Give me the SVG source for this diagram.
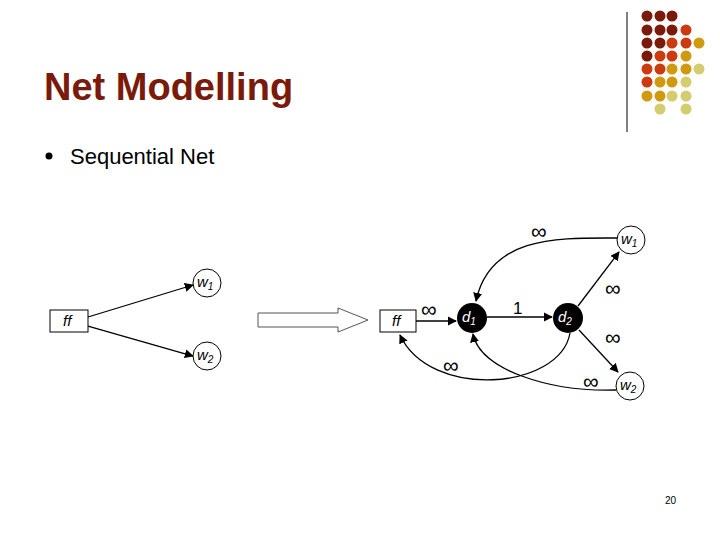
<svg xmlns="http://www.w3.org/2000/svg" width="720" height="540" viewBox="0 0 720 540">
<style>
.d{fill:#7a1a0a}.o{fill:#cc3a10}.g{fill:#d09a10}.p{fill:#d4cc70}
.t{font-family:"Liberation Sans",Arial,sans-serif}
.n{fill:#fff;stroke:#000;stroke-width:1}
.e{fill:none;stroke:#000;stroke-width:1.3;marker-end:url(#a)}
.lb{font-family:"Liberation Sans",Arial,sans-serif;font-size:22px}
.it{font-family:"Liberation Sans",Arial,sans-serif;font-style:italic;font-size:15px}
</style>
<defs><marker id="a" viewBox="0 0 10 10" refX="9" refY="5" markerWidth="7" markerHeight="7" orient="auto"><path d="M0,0L10,5L0,10z"/></marker></defs>
<rect width="720" height="540" fill="#fff"/>
<line x1="627" y1="12" x2="627" y2="132" stroke="#000"/>
<g>
<circle class="d" cx="647" cy="16" r="5.5"/><circle class="d" cx="660" cy="16" r="5.5"/><circle class="d" cx="672" cy="16" r="5.5"/>
<circle class="d" cx="647" cy="30" r="5.5"/><circle class="d" cx="660" cy="30" r="5.5"/><circle class="d" cx="672" cy="30" r="5.5"/><circle class="o" cx="686" cy="30" r="5.5"/>
<circle class="d" cx="647" cy="43" r="5.5"/><circle class="d" cx="660" cy="43" r="5.5"/><circle class="o" cx="672" cy="43" r="5.5"/><circle class="o" cx="686" cy="43" r="5.5"/><circle class="g" cx="699" cy="43" r="5.5"/>
<circle class="d" cx="647" cy="56" r="5.5"/><circle class="o" cx="660" cy="56" r="5.5"/><circle class="o" cx="672" cy="56" r="5.5"/><circle class="g" cx="686" cy="56" r="5.5"/>
<circle class="o" cx="647" cy="69" r="5.5"/><circle class="o" cx="660" cy="69" r="5.5"/><circle class="g" cx="672" cy="69" r="5.5"/><circle class="g" cx="686" cy="69" r="5.5"/><circle class="p" cx="699" cy="69" r="5.5"/>
<circle class="o" cx="647" cy="82" r="5.5"/><circle class="g" cx="660" cy="82" r="5.5"/><circle class="g" cx="672" cy="82" r="5.5"/><circle class="p" cx="686" cy="82" r="5.5"/>
<circle class="g" cx="647" cy="96" r="5.5"/><circle class="g" cx="660" cy="96" r="5.5"/><circle class="p" cx="672" cy="96" r="5.5"/><circle class="p" cx="686" cy="96" r="5.5"/>
<circle class="p" cx="660" cy="109" r="5.5"/><circle class="p" cx="686" cy="109" r="5.5"/>
</g>
<text class="t" x="44" y="100" font-size="38" font-weight="bold" fill="#7a1a0a">Net Modelling</text>
<circle cx="49" cy="156" r="3.5" fill="#000"/>
<text class="t" x="70" y="164" font-size="22">Sequential Net</text>
<path d="M258,313H338V308L368,320L338,332V327H258Z" fill="#fff" stroke="#555" stroke-width="1"/>
<g id="connectors">
<line class="e" x1="88" y1="317" x2="193" y2="285"/>
<line class="e" x1="88" y1="326" x2="193" y2="356"/>
<line class="e" x1="416" y1="321" x2="456" y2="321"/>
<line class="e" x1="487" y1="317" x2="552" y2="317"/>
<line class="e" x1="578" y1="306" x2="619" y2="252"/>
<line class="e" x1="579" y1="330" x2="618" y2="372"/>
<path class="e" d="M617,238C560,238 490,235 476,301"/>
<path class="e" d="M570,333C560,390 430,400 400,335"/>
<path class="e" d="M616,390C550,392 480,370 473,334"/>
</g>
<g id="ff1"><rect class="n" x="50" y="310" width="38" height="22"/><text class="it" x="63" y="326">ff</text></g>
<g id="w1a"><circle class="n" cx="207" cy="283" r="14"/><text class="it" x="197" y="287">w<tspan font-size="10" dy="3">1</tspan></text></g>
<g id="w2a"><circle class="n" cx="207" cy="356" r="14"/><text class="it" x="197" y="360">w<tspan font-size="10" dy="3">2</tspan></text></g>
<g id="ff2"><rect class="n" x="380" y="310" width="36" height="22"/><text class="it" x="392" y="326">ff</text></g>
<g id="d1"><circle cx="472" cy="318" r="15"/><text class="it" x="462" y="322" fill="#fff">d<tspan font-size="10" dy="3">1</tspan></text></g>
<g id="d2"><circle cx="568" cy="318" r="15"/><text class="it" x="558" y="322" fill="#fff">d<tspan font-size="10" dy="3">2</tspan></text></g>
<g id="w1"><circle class="n" cx="631" cy="240" r="14"/><text class="it" x="621" y="244">w<tspan font-size="10" dy="3">1</tspan></text></g>
<g id="w2"><circle class="n" cx="630" cy="386" r="14"/><text class="it" x="620" y="390">w<tspan font-size="10" dy="3">2</tspan></text></g>
<g class="lb">
<text x="531" y="239">∞</text><text x="421" y="317">∞</text><text x="513" y="314" font-size="17">1</text>
<text x="605" y="296">∞</text><text x="605" y="345">∞</text><text x="443" y="373">∞</text><text x="583" y="389">∞</text>
</g>
<text class="t" x="665" y="504" font-size="10">20</text>
</svg>
